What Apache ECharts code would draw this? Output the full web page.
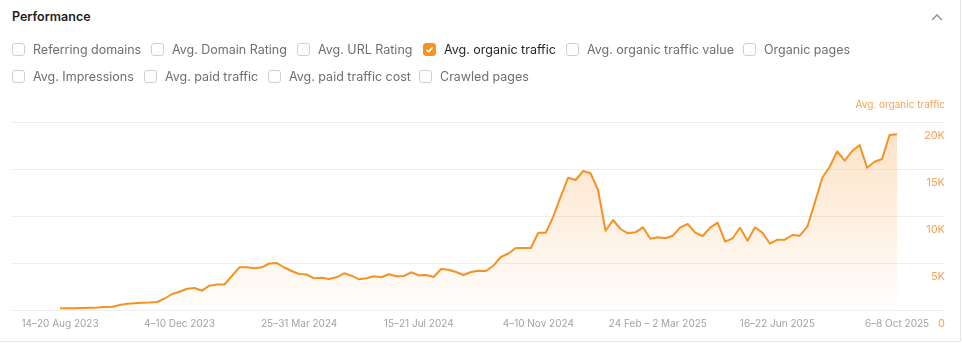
<!DOCTYPE html>
<html>
<head>
<meta charset="utf-8">
<script src="https://cdn.jsdelivr.net/npm/echarts@6/dist/echarts.min.js"></script>
<style>
  html, body { margin: 0; padding: 0; background: #fff; }
  body { width: 962px; height: 356px; position: relative; overflow: hidden; font-family: Inter, "Noto Sans", sans-serif; }
  #card { position: absolute; left: 0; top: 0; width: 960px; height: 341px; border-right: 1px solid #e6e6e6; border-bottom: 1px solid #e6e6e6; }
  #title { position: absolute; left: 12px; top: 9px; font-size: 12.5px; font-weight: 600; color: #1d1d1d; }
  #chev { position: absolute; left: 930px; top: 12px; }
  .cb { position: absolute; height: 16px; display: flex; align-items: center; font-size: 12.5px; color: #6e6e6e; white-space: nowrap; }
  .box { width: 11px; height: 11px; border: 1px solid #cfcfcf; border-radius: 3px; margin-right: 8px; box-sizing: content-box; background: #fff; position: relative; }
  .cb.on { color: #262626; }
  .cb.on .box { background: #f7931e; border-color: #f7931e; }
  .cb.on .box svg { position: absolute; left: 1px; top: 1px; }
  #chart { position: absolute; left: 0; top: 0; width: 962px; height: 356px; }
</style>
</head>
<body>
<div id="card"></div>
<div id="title">Performance</div>
<svg id="chev" width="14" height="10" viewBox="0 0 14 10"><polyline points="2,8 7,3 12,8" fill="none" stroke="#9a9a9a" stroke-width="1.6"/></svg>
<div id="chart"></div>
<div id="checks"></div>
<script>
// ---- data ----
const weekLabels = [
  "14–20 Aug 2023","21–27 Aug 2023","28 Aug – 3 Sep 2023","4–10 Sep 2023","11–17 Sep 2023","18–24 Sep 2023",
  "25 Sep – 1 Oct 2023","2–8 Oct 2023","9–15 Oct 2023","16–22 Oct 2023","23–29 Oct 2023","30 Oct – 5 Nov 2023",
  "6–12 Nov 2023","13–19 Nov 2023","20–26 Nov 2023","27 Nov – 3 Dec 2023","4–10 Dec 2023","11–17 Dec 2023",
  "18–24 Dec 2023","25–31 Dec 2023","1–7 Jan 2024","8–14 Jan 2024","15–21 Jan 2024","22–28 Jan 2024",
  "29 Jan – 4 Feb 2024","5–11 Feb 2024","12–18 Feb 2024","19–25 Feb 2024","26 Feb – 3 Mar 2024","4–10 Mar 2024",
  "11–17 Mar 2024","18–24 Mar 2024","25–31 Mar 2024","1–7 Apr 2024","8–14 Apr 2024","15–21 Apr 2024",
  "22–28 Apr 2024","29 Apr – 5 May 2024","6–12 May 2024","13–19 May 2024","20–26 May 2024","27 May – 2 Jun 2024",
  "3–9 Jun 2024","10–16 Jun 2024","17–23 Jun 2024","24–30 Jun 2024","1–7 Jul 2024","8–14 Jul 2024",
  "15–21 Jul 2024","22–28 Jul 2024","29 Jul – 4 Aug 2024","5–11 Aug 2024","12–18 Aug 2024","19–25 Aug 2024",
  "26 Aug – 1 Sep 2024","2–8 Sep 2024","9–15 Sep 2024","16–22 Sep 2024","23–29 Sep 2024","30 Sep – 6 Oct 2024",
  "7–13 Oct 2024","14–20 Oct 2024","21–27 Oct 2024","28 Oct – 3 Nov 2024","4–10 Nov 2024","11–17 Nov 2024",
  "18–24 Nov 2024","25 Nov – 1 Dec 2024","2–8 Dec 2024","9–15 Dec 2024","16–22 Dec 2024","23–29 Dec 2024",
  "30 Dec 2024 – 5 Jan 2025","6–12 Jan 2025","13–19 Jan 2025","20–26 Jan 2025","27 Jan – 2 Feb 2025","3–9 Feb 2025",
  "10–16 Feb 2025","17–23 Feb 2025","24 Feb – 2 Mar 2025","3–9 Mar 2025","10–16 Mar 2025","17–23 Mar 2025",
  "24–30 Mar 2025","31 Mar – 6 Apr 2025","7–13 Apr 2025","14–20 Apr 2025","21–27 Apr 2025","28 Apr – 4 May 2025",
  "5–11 May 2025","12–18 May 2025","19–25 May 2025","26 May – 1 Jun 2025","2–8 Jun 2025","9–15 Jun 2025",
  "16–22 Jun 2025","23–29 Jun 2025","30 Jun – 6 Jul 2025","7–13 Jul 2025","14–20 Jul 2025","21–27 Jul 2025",
  "28 Jul – 3 Aug 2025","4–10 Aug 2025","11–17 Aug 2025","18–24 Aug 2025","25–31 Aug 2025","1–7 Sep 2025",
  "8–14 Sep 2025","15–21 Sep 2025","22–28 Sep 2025","29 Sep – 5 Oct 2025","6–8 Oct 2025"
];
const avgOrganicTraffic = [
  181,181,191,213,234,266,319,340,532,670,723,766,798,851,1223,1702,1947,2266,2340,2053,
  2585,2713,2713,3617,4543,4543,4436,4543,4947,5000,4521,4149,3830,3777,3372,3436,3298,3479,3904,3649,
  3266,3372,3585,3479,3798,3585,3617,4011,3691,3723,3511,4362,4287,4043,3723,4043,4181,4149,4713,5638,
  6011,6596,6596,6596,8223,8223,9926,12053,14074,13830,14787,14543,12766,8436,9574,8617,8160,8266,8798,7585,
  7734,7628,7904,8798,9149,8223,7872,8755,9287,7266,7628,8755,7372,8798,8223,7053,7479,7479,7979,7904,
  8862,11415,14074,15245,16883,15883,16915,17553,15138,15777,16064,18617,18691
];
const yTicks = [0, 5000, 10000, 15000, 20000];
const metricOptions = [
  "Referring domains","Avg. Domain Rating","Avg. URL Rating","Avg. organic traffic","Avg. organic traffic value","Organic pages",
  "Avg. Impressions","Avg. paid traffic","Avg. paid traffic cost","Crawled pages"
];
const checkedMetric = "Avg. organic traffic";
const seriesName = "Avg. organic traffic";

// ---- header checkboxes ----
const cbPos = [[12,41],[151,41],[297,41],[423,41],[566,41],[743,41],[12,68],[144,68],[268,68],[419,68]];
const checks = document.getElementById('checks');
metricOptions.forEach((m, i) => {
  const d = document.createElement('div');
  d.className = 'cb' + (m === checkedMetric ? ' on' : '');
  d.style.left = cbPos[i][0] + 'px';
  d.style.top = cbPos[i][1] + 'px';
  const b = document.createElement('span');
  b.className = 'box';
  if (m === checkedMetric) {
    b.innerHTML = '<svg width="9" height="9" viewBox="0 0 9 9"><polyline points="1.5,4.8 3.7,6.8 7.6,2.2" fill="none" stroke="#fff" stroke-width="1.6"/></svg>';
  }
  d.appendChild(b);
  const t = document.createElement('span');
  t.textContent = m;
  d.appendChild(t);
  checks.appendChild(d);
});

// ---- chart ----
const chart = echarts.init(document.getElementById('chart'), null, { renderer: 'canvas' });
const orange = '#f39325';
const fmtK = v => v === 0 ? '0' : (v / 1000) + 'K';
chart.setOption({
  animation: false,
  grid: [
    { left: 12, right: 17, top: 122, bottom: 46 },
    { left: 60, right: 65, top: 122, bottom: 46 }
  ],
  graphic: [{
    type: 'text', right: 17, top: 100,
    style: { text: seriesName, fill: '#f7a254', fontSize: 10, fontFamily: 'Inter', textAlign: 'right' }
  }],
  xAxis: [
    { gridIndex: 0, type: 'category', data: [''], show: false },
    {
      gridIndex: 1, type: 'category', data: weekLabels, boundaryGap: false,
      axisLine: { show: false }, axisTick: { show: false },
      axisLabel: { interval: 15, color: '#a3a3a3', fontSize: 10, fontFamily: 'Inter', margin: 9, hideOverlap: false, showMaxLabel: true }
    }
  ],
  yAxis: [
    {
      gridIndex: 0, type: 'value', position: 'right', min: 0, max: 20000, interval: 5000,
      axisLine: { show: false }, axisTick: { show: false },
      splitLine: { lineStyle: { color: '#eeeeee', width: 1 } },
      axisLabel: {
        inside: true, color: '#f7a254', fontSize: 11, fontFamily: 'Inter', margin: 0,
        verticalAlign: 'top', padding: [8, 0, 0, 0],
        formatter: v => yTicks.includes(v) ? fmtK(v) : ''
      }
    },
    { gridIndex: 1, type: 'value', min: 0, max: 20000, show: false }
  ],
  series: [{
    name: seriesName, type: 'line', xAxisIndex: 1, yAxisIndex: 1,
    data: avgOrganicTraffic, symbol: 'none', smooth: false,
    lineStyle: { color: orange, width: 2, join: 'round' },
    areaStyle: {
      color: new echarts.graphic.LinearGradient(0, 0, 0, 1, [
        { offset: 0, color: 'rgba(248,150,45,0.38)' },
        { offset: 1, color: 'rgba(248,150,45,0.02)' }
      ])
    }
  }]
});
</script>
</body>
</html>
